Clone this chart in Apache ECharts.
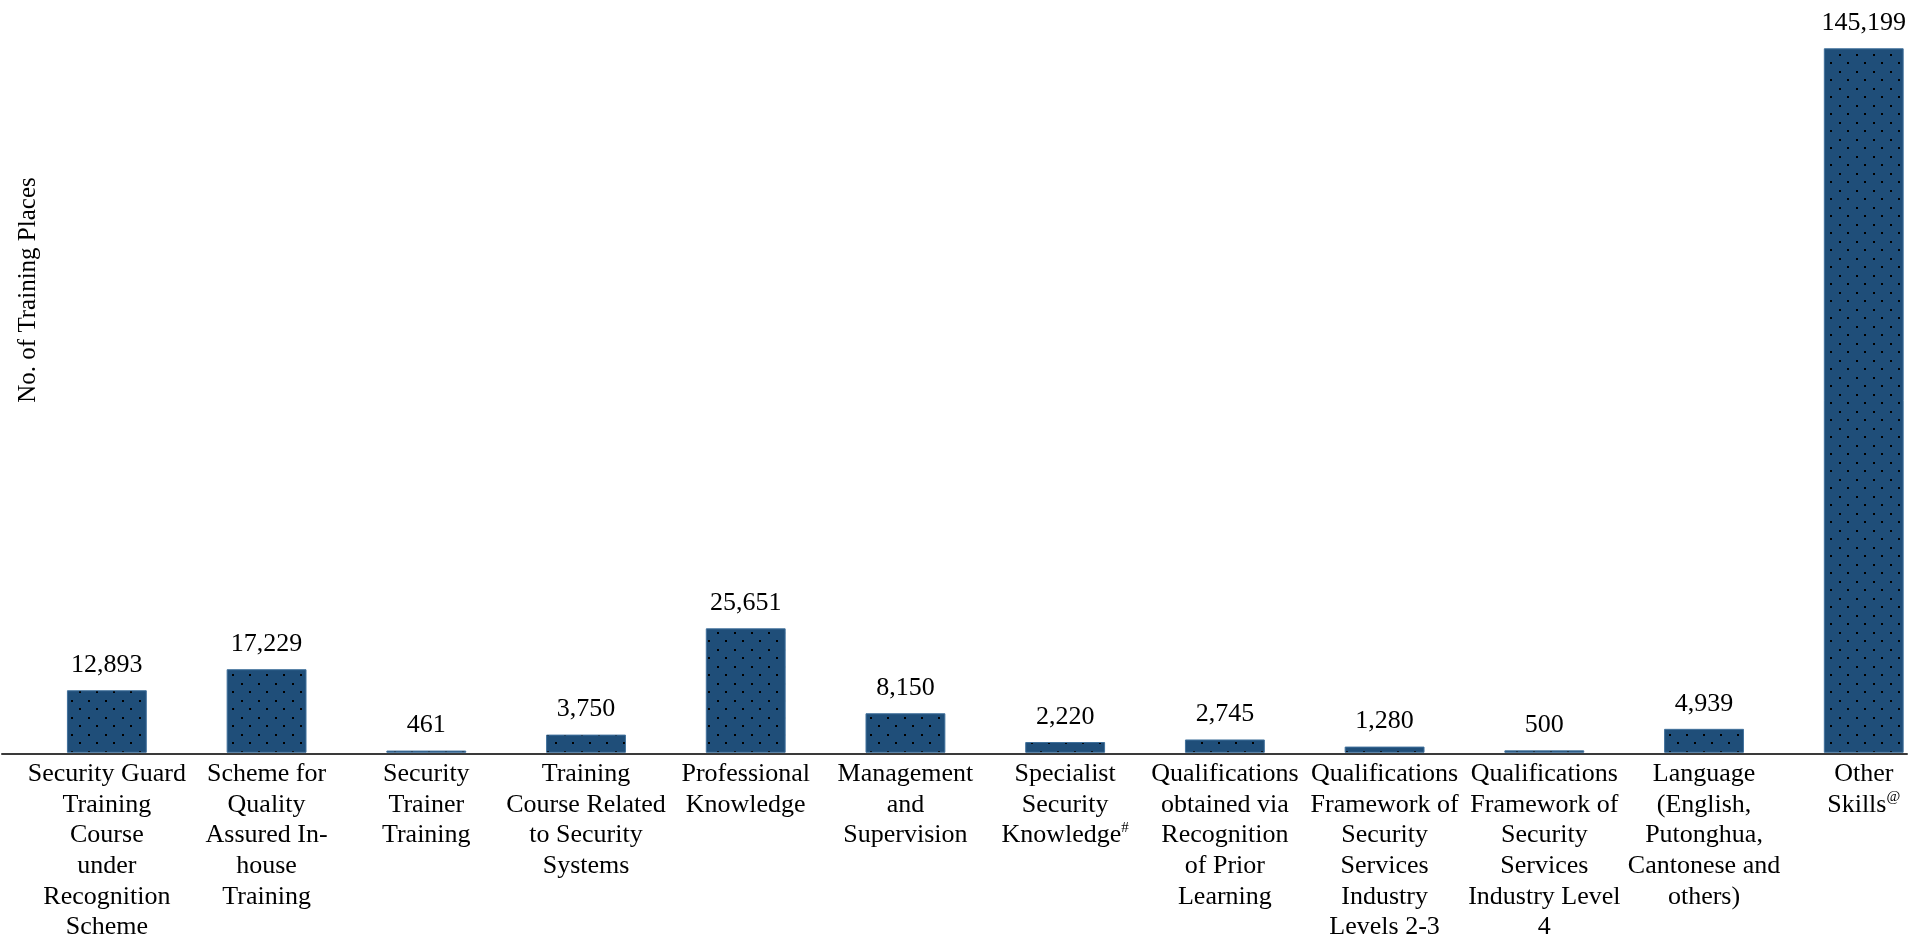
<!DOCTYPE html>
<html>
<head>
<meta charset="utf-8">
<script src="https://cdn.jsdelivr.net/npm/echarts@6/dist/echarts.min.js"></script>
<style>
  html, body { margin: 0; padding: 0; background: #ffffff; overflow: hidden; }
  /* the drawing surface runs a little past the right edge so the last category band is whole */
  #chart { width: 1944px; height: 943px; }
</style>
</head>
<body>
<div id="chart"></div>
<script>
// Training places by course type; trailing '#' / '@' are footnote markers shown as superscripts
const categories = [
  'Security Guard\nTraining\nCourse\nunder\nRecognition\nScheme',
  'Scheme for\nQuality\nAssured In-\nhouse\nTraining',
  'Security\nTrainer\nTraining',
  'Training\nCourse Related\nto Security\nSystems',
  'Professional\nKnowledge',
  'Management\nand\nSupervision',
  'Specialist\nSecurity\nKnowledge#',
  'Qualifications\nobtained via\nRecognition\nof Prior\nLearning',
  'Qualifications\nFramework of\nSecurity\nServices\nIndustry\nLevels 2-3',
  'Qualifications\nFramework of\nSecurity\nServices\nIndustry Level\n4',
  'Language\n(English,\nPutonghua,\nCantonese and\nothers)',
  'Other\nSkills@'
];
const trainingPlaces = [12893, 17229, 461, 3750, 25651, 8150, 2220, 2745, 1280, 500, 4939, 145199];
const yAxisTitle = 'No. of Training Places';

const FONT = '"Liberation Serif", "Times New Roman", serif';

// Dark blue fill with a staggered dot grid
function dotPattern() {
  const c = document.createElement('canvas');
  c.width = 17; c.height = 17;
  const g = c.getContext('2d');
  g.fillStyle = '#1f4e79';
  g.fillRect(0, 0, 17, 17);
  g.fillStyle = '#000000';
  g.fillRect(3, 3, 2, 2);
  g.fillRect(11, 11, 2, 2);
  return c;
}

const chart = echarts.init(document.getElementById('chart'), null, { renderer: 'canvas' });

chart.setOption({
  backgroundColor: '#ffffff',
  animation: false,
  grid: [
    { left: 27, width: 1916.6, top: 25, bottom: 189, containLabel: false },
    { left: 2, width: 1905, top: 25, bottom: 189, containLabel: false }
  ],
  xAxis: [
    {
      type: 'category',
      gridIndex: 0,
      data: categories,
      axisLine: { show: false },
      axisTick: { show: false },
      axisLabel: {
        interval: 0,
        margin: 6,
        color: '#000000',
        fontFamily: FONT,
        fontSize: 26,
        lineHeight: 30.7,
        align: 'center',
        formatter: function (v) {
          return v.replace(/([#@])$/, '{sup|$1}');
        },
        rich: {
          sup: { fontFamily: FONT, fontSize: 15, lineHeight: 18, verticalAlign: 'top', color: '#000000' }
        }
      }
    },
    {
      type: 'category',
      gridIndex: 1,
      data: [''],
      axisLine: { show: true, lineStyle: { color: '#3a3a3a', width: 2 } },
      axisTick: { show: false },
      axisLabel: { show: false }
    }
  ],
  yAxis: [
    { type: 'value', gridIndex: 0, min: 0, max: 150000, show: false, splitLine: { show: false } },
    { type: 'value', gridIndex: 1, min: 0, max: 150000, show: false, splitLine: { show: false } }
  ],
  graphic: [
    {
      type: 'text',
      x: 28,
      y: 290,
      rotation: Math.PI / 2,
      style: {
        text: yAxisTitle,
        fontFamily: FONT,
        fontSize: 25,
        fill: '#000000',
        align: 'center',
        verticalAlign: 'middle'
      }
    }
  ],
  series: [
    {
      type: 'bar',
      xAxisIndex: 0,
      yAxisIndex: 0,
      data: trainingPlaces,
      barWidth: '50%',
      itemStyle: {
        color: { image: dotPattern(), repeat: 'repeat' },
        borderColor: '#41719c',
        borderWidth: 1
      },
      label: {
        show: true,
        position: 'top',
        distance: 12,
        color: '#000000',
        fontFamily: FONT,
        fontSize: 26,
        formatter: function (p) {
          return p.value.toLocaleString('en-US');
        }
      }
    }
  ]
});
</script>
</body>
</html>
